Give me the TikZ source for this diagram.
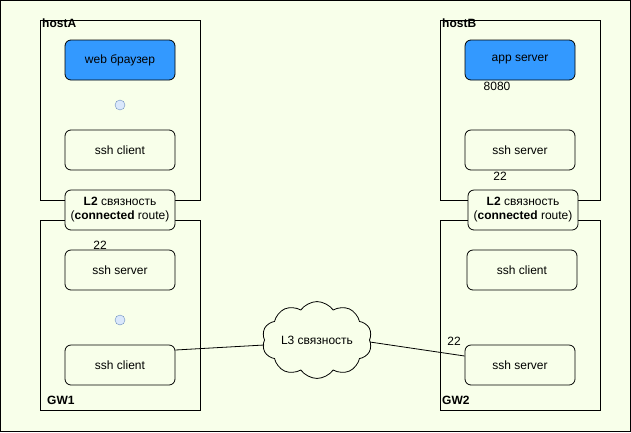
\documentclass[tikz,border=0pt]{standalone}
\usepackage{fontspec}
\setmainfont{Liberation Sans}
\usetikzlibrary{shapes.symbols}
\definecolor{bg}{HTML}{F8FFEA}
\definecolor{appblue}{HTML}{3399FF}
\definecolor{dotfill}{HTML}{DAE8FC}
\definecolor{dotline}{HTML}{6C8EBF}
\begin{document}
\begin{tikzpicture}[x=1pt,y=-1pt,
  hostbox/.style={draw=black, line width=1pt},
  proc/.style={draw=black, line width=0.8pt, rounded corners=6pt, fill=bg, minimum width=110pt, minimum height=40pt, inner sep=0pt, font=\fontsize{12}{14}\selectfont},
  appbox/.style={proc, fill=appblue},
  lbox/.style={proc, align=center, font=\fontsize{12}{14}\selectfont},
  dot/.style={circle, draw=dotline, fill=dotfill, minimum size=10pt, inner sep=0pt},
  lbl/.style={font=\fontsize{12}{14}\selectfont, inner sep=0pt},
  blbl/.style={font=\bfseries\fontsize{12}{14}\selectfont, inner sep=0pt, anchor=north west},
  conn/.style={draw=black, line width=0.8pt}
]
\fill[bg] (0,0) rectangle (631,432);
\draw[line width=1pt] (0.5,0.5) rectangle (630.5,431);
% host boxes
\draw[hostbox] (40,20) rectangle (200,200);
\draw[hostbox] (40,220) rectangle (200,410);
\draw[hostbox] (440,20) rectangle (600,200);
\draw[hostbox] (440,220) rectangle (600,410);
\node[blbl] (hA) at (42,19) {hostA};
\node[blbl] (hB) at (442,19) {hostB};
\node[blbl] (g1) at (47,396) {GW1};
\node[blbl] (g2) at (442,396) {GW2};
% hostA
\node[appbox] (web) at (120,60) {web браузер};
\node[dot] (d1) at (120,105) {};
\node[proc] (sshcA) at (120,150) {ssh client};
\node[lbox] (l2a) at (120,210) {\textbf{L2} связность\\(\textbf{connected} route)};
% GW1
\node[proc] (sshs1) at (120,270) {ssh server};
\node[lbl] (p1) at (100,245) {22};
\node[dot] (d2) at (120,320) {};
\node[proc] (sshc1) at (120,365) {ssh client};
% hostB
\node[appbox] (app) at (520,60) {app server};
\node[lbl] (p8080) at (497,86) {8080};
\node[proc] (sshsB) at (520,150) {ssh server};
\node[lbl] (p2) at (500,176) {22};
\node[lbox] (l2b) at (523,210) {\textbf{L2} связность\\(\textbf{connected} route)};
% GW2
\node[proc] (sshc2) at (522,270) {ssh client};
\node[proc] (sshs2) at (520,365) {ssh server};
\node[lbl] (p3) at (454,341) {22};
% cloud
\node[cloud, draw=black, line width=0.8pt, fill=bg, cloud puffs=10, cloud puff arc=110, aspect=1.6, minimum width=110pt, minimum height=70pt, inner sep=0pt, font=\fontsize{12}{14}\selectfont] (cl) at (317,340) {L3 связность};
\draw[conn] (sshc1.east |- 0,350) -- (cl.west |- 0,345);
\draw[conn] (cl.east |- 0,342) -- (sshs2.west |- 0,356);
\end{tikzpicture}
\end{document}
